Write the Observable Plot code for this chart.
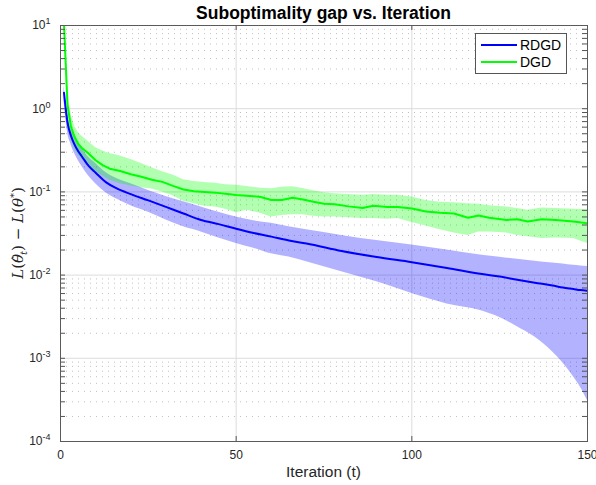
<!DOCTYPE html>
<html><head><meta charset="utf-8">
<script src="https://cdn.jsdelivr.net/npm/d3@7"></script>
<script src="https://cdn.jsdelivr.net/npm/@observablehq/plot@0.6"></script>
<style>
body{margin:0;background:#fff}
svg{font-family:"Liberation Sans",Arial,Helvetica,sans-serif}
</style>
</head><body><div id="chart"></div>
<script>
// ---- data ----
const seriesNames = ["RDGD", "DGD"];
const seriesColors = ["#0000ff", "#00ff00"];

const blueT    = [1,2,3,4,5,6,8,10,13,16,20,25,30,35,40,45,50,55,60,65,70,80,90,100,110,120,125,130,135,140,143,146,148,150];
const blueMean = [1.55,0.68,0.47,0.37,0.31,0.27,0.205,0.17,0.13,0.11,0.094,0.079,0.066,0.055,0.046,0.041,0.036,0.032,0.029,0.026,0.024,0.0195,0.0165,0.0143,0.0122,0.0103,0.0096,0.0088,0.0081,0.0075,0.0071,0.0068,0.0066,0.0065];
const blueHi   = [1.9,0.85,0.57,0.46,0.39,0.34,0.26,0.22,0.17,0.145,0.125,0.104,0.088,0.076,0.066,0.057,0.050,0.045,0.042,0.038,0.035,0.030,0.026,0.023,0.020,0.0173,0.0164,0.0155,0.0147,0.014,0.0136,0.0131,0.0129,0.0127];
const blueLo   = [1.25,0.52,0.37,0.29,0.24,0.205,0.155,0.125,0.097,0.082,0.068,0.057,0.046,0.038,0.033,0.028,0.024,0.021,0.018,0.0165,0.0145,0.011,0.0083,0.0060,0.0045,0.0037,0.0031,0.0024,0.0018,0.0012,0.00088,0.0006,0.00045,0.00031];

const greenT    = [1,2,3,4,5,6,8,10,12,14,17,20,23,26,29,32,35,38,41,44,47,50,53,57,60,63,66,69,72,75,78,82,86,89,93,96,100,104,108,112,116,119,122,127,130,133,137,141,146,150];
const greenMean = [10.5,1.1,0.6,0.46,0.38,0.34,0.29,0.24,0.21,0.19,0.178,0.163,0.152,0.14,0.132,0.118,0.107,0.102,0.100,0.098,0.095,0.092,0.090,0.087,0.080,0.080,0.085,0.081,0.076,0.072,0.071,0.067,0.064,0.068,0.066,0.066,0.063,0.058,0.056,0.055,0.049,0.052,0.049,0.046,0.047,0.044,0.047,0.046,0.044,0.042];
const greenHi   = [12,1.6,0.85,0.62,0.52,0.47,0.40,0.34,0.31,0.29,0.27,0.245,0.22,0.195,0.175,0.16,0.14,0.133,0.13,0.127,0.122,0.12,0.116,0.111,0.109,0.114,0.115,0.11,0.103,0.098,0.095,0.093,0.091,0.093,0.091,0.091,0.087,0.079,0.075,0.074,0.072,0.071,0.068,0.066,0.063,0.060,0.064,0.063,0.062,0.061];
const greenLo   = [9,0.75,0.42,0.33,0.28,0.25,0.21,0.175,0.155,0.138,0.125,0.118,0.112,0.108,0.1,0.09,0.077,0.072,0.067,0.066,0.062,0.056,0.060,0.055,0.050,0.052,0.053,0.053,0.051,0.05,0.05,0.049,0.048,0.048,0.047,0.048,0.043,0.039,0.035,0.032,0.030,0.033,0.033,0.032,0.030,0.029,0.0276,0.028,0.0276,0.024];

const xTicks = [0, 50, 100, 150];
const yMajor = [1e-4, 1e-3, 1e-2, 1e-1, 1, 10];

// ---- layout ----
const W = 596, H = 485, mL = 60, mR = 9, mT = 25, mB = 44;
const plotW = W - mL - mR, plotH = H - mT - mB;
const tickLen = 5;

const blue = blueT.map((t, i) => ({t, m: blueMean[i], lo: blueLo[i], hi: blueHi[i]}));
const green = greenT.map((t, i) => ({t, m: greenMean[i], lo: greenLo[i], hi: greenHi[i]}));
const yMinor = yMajor.slice(0, -1).flatMap(v => [2,3,4,5,6,7,8,9].map(k => k * v));
const yAll = yMajor.concat(yMinor);
const innerX = xTicks.slice(1, -1);

const chart = Plot.plot({
  width: W, height: H,
  marginLeft: mL, marginRight: mR, marginTop: mT, marginBottom: mB,
  style: {fontFamily: '"Liberation Sans",Arial,sans-serif', background: "#fff"},
  x: {domain: [0, 150]},
  y: {type: "log", domain: [1e-4, 10]},
  marks: [
    Plot.ruleY(yMinor, {stroke: "#c0c0c0", strokeDasharray: "1,5", strokeWidth: 1}),
    Plot.gridY(yMajor, {stroke: "#dcdcdc", strokeOpacity: 1}),
    Plot.gridX(innerX, {stroke: "#dcdcdc", strokeOpacity: 1}),
    Plot.areaY(blue, {x: "t", y1: "lo", y2: "hi", fill: seriesColors[0], fillOpacity: 0.3, curve: "monotone-x", clip: true}),
    Plot.areaY(green, {x: "t", y1: "lo", y2: "hi", fill: seriesColors[1], fillOpacity: 0.3, clip: true}),
    Plot.lineY(blue, {x: "t", y: "m", stroke: seriesColors[0], strokeWidth: 2, curve: "monotone-x", clip: true}),
    Plot.lineY(green, {x: "t", y: "m", stroke: seriesColors[1], strokeWidth: 2, clip: true}),
    Plot.tickY(yAll, {stroke: "#555", insetRight: plotW - tickLen}),
    Plot.tickY(yAll, {stroke: "#555", insetLeft: plotW - tickLen}),
    Plot.tickX(innerX, {stroke: "#555", insetTop: plotH - tickLen}),
    Plot.tickX(innerX, {stroke: "#555", insetBottom: plotH - tickLen}),
    Plot.frame({stroke: "#5a5a5a"}),
    Plot.axisY(yMajor, {tickSize: 0, tickPadding: 10, fontSize: 12, fill: "#262626",
      tickFormat: d => String(Math.round(Math.log10(d))), label: null}),
    Plot.axisX(xTicks, {tickSize: 0, tickPadding: 9, fontSize: 12, fill: "#262626", label: null})
  ]
});

const svg = d3.select(chart);
// superscript exponents on y tick labels
svg.selectAll('g[aria-label="y-axis tick label"] text').each(function() {
  const e = this.textContent;
  const t = d3.select(this);
  t.text(null);
  t.append("tspan").text("10");
  t.append("tspan").attr("dy", "-0.55em").attr("font-size", "9px").text(e);
});

// title
svg.append("text")
  .attr("x", mL + plotW / 2).attr("y", 19)
  .attr("text-anchor", "middle")
  .attr("font-weight", "bold").attr("font-size", "17.5px").attr("fill", "#000")
  .text("Suboptimality gap vs. Iteration");

// x label
svg.append("text")
  .attr("x", mL + plotW / 2).attr("y", 477)
  .attr("text-anchor", "middle")
  .attr("font-size", "15.5px").attr("fill", "#262626")
  .text("Iteration (t)");

// y label (math style)
const yl = svg.append("text")
  .attr("transform", `translate(23,${mT + plotH / 2}) rotate(-90)`)
  .attr("text-anchor", "middle")
  .attr("font-family", '"DejaVu Serif","Liberation Serif",serif')
  .attr("font-size", "15px").attr("fill", "#262626");
yl.append("tspan").attr("font-style", "italic").text("L");
yl.append("tspan").text("(");
yl.append("tspan").attr("font-style", "italic").text("θ");
yl.append("tspan").attr("dx", "-7.5").attr("dy", "-1").attr("font-size", "13px").text("\u02C6");
yl.append("tspan").attr("font-style", "italic").attr("font-size", "10px").attr("dx", "0").attr("dy", "5").text("t");
yl.append("tspan").attr("dy", "-4").text(") \u2212 ");
yl.append("tspan").attr("font-style", "italic").text("L");
yl.append("tspan").text("(");
yl.append("tspan").attr("font-style", "italic").text("θ");
yl.append("tspan").attr("font-size", "10px").attr("dy", "-6").text("*");
yl.append("tspan").attr("dy", "6").text(")");

// legend
const lg = svg.append("g");
lg.append("rect").attr("x", 475.5).attr("y", 33.5).attr("width", 91).attr("height", 40)
  .attr("fill", "#fff").attr("stroke", "#555").attr("stroke-width", 1);
seriesNames.forEach((name, i) => {
  const yy = 45 + i * 17;
  lg.append("line").attr("x1", 481).attr("x2", 517).attr("y1", yy).attr("y2", yy)
    .attr("stroke", seriesColors[i]).attr("stroke-width", 2);
  lg.append("text").attr("x", 520).attr("y", yy).attr("dy", "0.35em")
    .attr("text-anchor", "start")
    .attr("font-size", "14px").attr("fill", "#000").text(name);
});

document.getElementById("chart").appendChild(chart);
</script>
</body></html>
